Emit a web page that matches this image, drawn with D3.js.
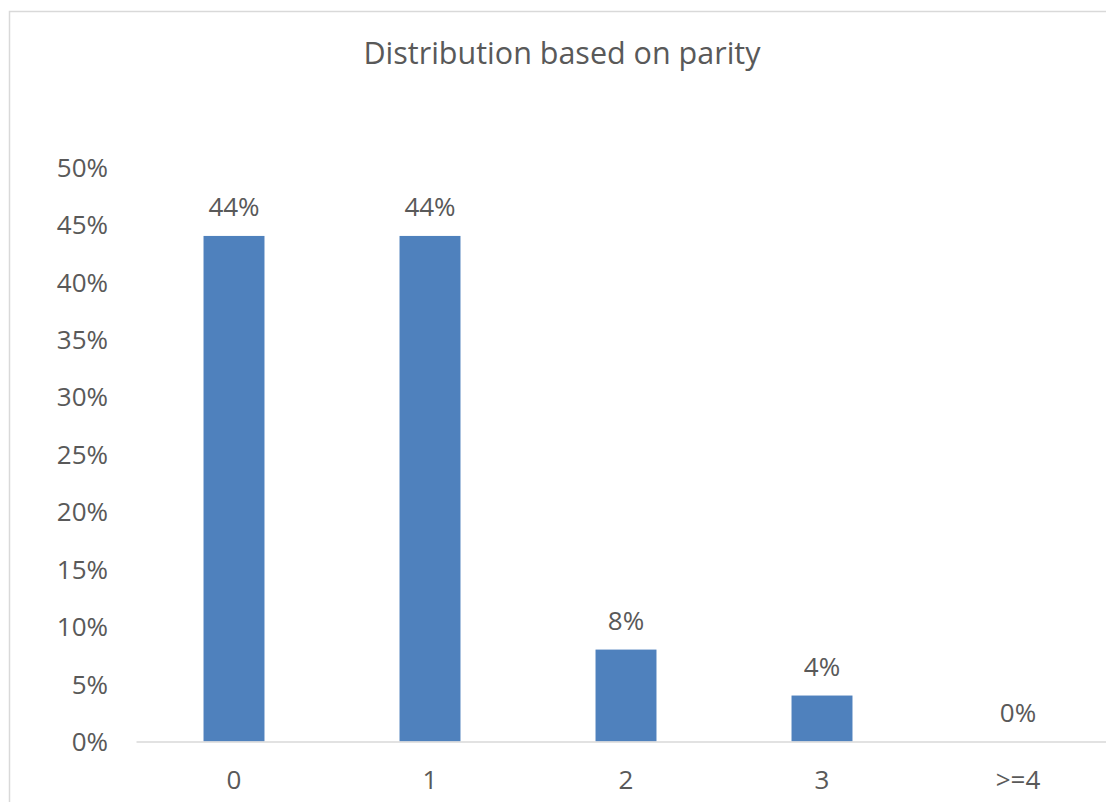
<!DOCTYPE html>
<html>
<head>
<meta charset="utf-8">
<script src="https://cdn.jsdelivr.net/npm/d3@7"></script>
<style>
  html, body { margin: 0; padding: 0; background: #fff; }
  svg { display: block; }
  text { font-family: "Open Sans", "Noto Sans", sans-serif; fill: #595959; }
</style>
</head>
<body>
<svg id="chart" width="1106" height="802"></svg>
<script>
// Parity categories and share of respondents
const categories = ["0", "1", "2", "3", ">=4"];
const shares = [0.44, 0.44, 0.08, 0.04, 0.00];
const yTicks = [0, 0.05, 0.10, 0.15, 0.20, 0.25, 0.30, 0.35, 0.40, 0.45, 0.50];
const title = "Distribution based on parity";

const svg = d3.select("#chart");
const labelFont = "\"Open Sans\", \"Noto Sans\", sans-serif";

// chart frame
svg.append("rect")
  .attr("x", 9.5).attr("y", 11.5)
  .attr("width", 1120).attr("height", 900)
  .attr("fill", "#fff")
  .attr("stroke", "#d9d9d9").attr("stroke-width", 1.5);

const plot = { left: 136, right: 1116, top: 167, bottom: 741.5 };

const x = d3.scaleBand()
  .domain(categories)
  .range([plot.left, plot.right])
  .paddingInner(0.689)
  .paddingOuter(0.3445);

const y = d3.scaleLinear()
  .domain([0, 0.5])
  .range([plot.bottom, plot.top]);

const pct = d3.format(".0%");

// title
svg.append("text")
  .attr("x", 562).attr("y", 64)
  .attr("text-anchor", "middle")
  .style("font-size", "30.5px")
  .text(title);

// y axis labels (no line, no ticks)
const yAxis = d3.axisLeft(y).tickValues(yTicks).tickFormat(pct).tickSize(0).tickPadding(0);
const gy = svg.append("g").attr("transform", "translate(108,0)").call(yAxis);
gy.select(".domain").remove();
gy.selectAll("text")
  .style("font-family", labelFont)
  .style("font-size", "26px")
  .attr("fill", "#595959")
  .attr("dy", "0.35em");

// bars
svg.append("g").selectAll("rect")
  .data(categories.map((c, i) => ({ c, v: shares[i] })))
  .join("rect")
  .attr("x", d => x(d.c))
  .attr("y", d => y(d.v))
  .attr("width", x.bandwidth())
  .attr("height", d => y(0) - y(d.v))
  .attr("fill", "#4f81bd");

// category axis
const xAxis = d3.axisBottom(x).tickSize(0).tickPadding(0);
const gx = svg.append("g").attr("transform", `translate(0,${plot.bottom})`).call(xAxis);
gx.select(".domain").attr("stroke", "#d9d9d9").attr("stroke-width", 1.5);
gx.selectAll("text")
  .style("font-family", labelFont)
  .style("font-size", "26px")
  .attr("fill", "#595959")
  .attr("dy", null)
  .attr("y", 47);

// value labels
svg.append("g").selectAll("text")
  .data(categories.map((c, i) => ({ c, v: shares[i] })))
  .join("text")
  .attr("x", d => x(d.c) + x.bandwidth() / 2)
  .attr("y", d => y(d.v) - 20)
  .attr("text-anchor", "middle")
  .style("font-size", "26px")
  .text(d => pct(d.v));
</script>
</body>
</html>
